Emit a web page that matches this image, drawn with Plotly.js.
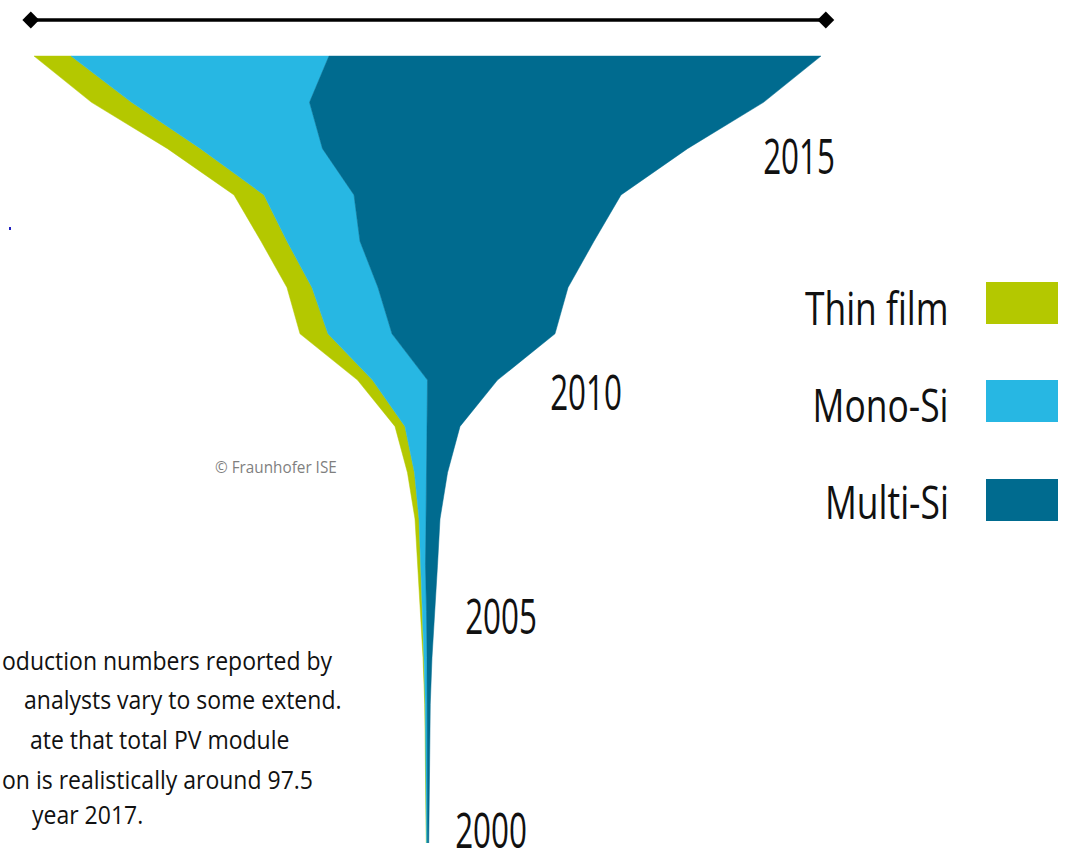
<!DOCTYPE html>
<html>
<head>
<meta charset="utf-8">
<script src="https://cdn.plot.ly/plotly-3.0.1.min.js"></script>
<style>html,body{margin:0;padding:0;background:#fff;}#chart{width:1067px;height:861px;}</style>
</head>
<body>
<div id="chart"></div>
<script>
// Annual PV module production by technology (GW)
const years = [2000,2001,2002,2003,2004,2005,2006,2007,2008,2009,2010,2011,2012,2013,2014,2015,2016,2017];
const thinFilm = [0.04,0.05,0.06,0.07,0.12,0.25,0.37,0.50,0.87,1.24,1.86,3.47,3.10,3.22,3.72,4.09,4.96,4.58];
const monoSi   = [0.12,0.15,0.19,0.25,0.37,0.50,0.62,0.87,1.49,2.73,6.81,7.93,8.18,9.04,11.15,15.11,22.05,31.96];
const multiSi  = [0.15,0.20,0.25,0.37,0.62,0.99,1.49,1.73,2.60,4.09,8.67,20.19,23.54,28.99,33.08,45.22,56.24,60.95];
const seriesNames = ["Thin film","Mono-Si","Multi-Si"];
const yearLabels = ["2015","2010","2005","2000"];
const noteLines = ["oduction numbers reported by","analysts vary to some extend.","ate that total PV module","on is realistically around 97.5","year 2017."];
const credit = "© Fraunhofer ISE";

const colors = ["#B4C800","#27B7E3","#006B8F"];
const W = 1067, H = 861;

// centred stack boundaries
const totals = years.map((_,i)=>thinFilm[i]+monoSi[i]+multiSi[i]);
const b0 = totals.map(t=>-t/2);
const b1 = b0.map((v,i)=>v+thinFilm[i]);
const b2 = b1.map((v,i)=>v+monoSi[i]);
const b3 = b2.map((v,i)=>v+multiSi[i]);

function band(lo, hi, name, color){
  return {
    type:'scatter', mode:'lines', name:name,
    x: lo.concat(hi.slice().reverse()),
    y: years.concat(years.slice().reverse()),
    fill:'toself', fillcolor:color,
    line:{color:color, width:0.5}, hoverinfo:'name', showlegend:false
  };
}
const traces = [
  band(b0,b1,seriesNames[0],colors[0]),
  band(b1,b2,seriesNames[1],colors[1]),
  band(b2,b3,seriesNames[2],colors[2])
];
const last = totals.length-1;
// dimension bar showing total of the last year
traces.push({
  type:'scatter', mode:'lines+markers',
  x:[b0[last]-0.4, b3[last]+0.6], y:[2017.78,2017.78],
  line:{color:'#000',width:3.5},
  marker:{symbol:'diamond',size:13,color:'#000'},
  hoverinfo:'skip', showlegend:false
});

const px = x=>x/W, py = y=>1-y/H;
const FN = '"Open Sans", sans-serif';
const annotations = [];
const squash = [];
const yearPos = [[799,155],[586,391],[501,615],[491,829]];
yearLabels.forEach((t,i)=>{annotations.push({
  text:t, xref:'paper', yref:'paper', x:px(yearPos[i][0]), y:py(yearPos[i][1]),
  xanchor:'center', yanchor:'middle', showarrow:false, height:42,
  font:{family:FN,size:49,color:'#111'}
}); squash.push(0.64);});
const legY = [307,404,501];
seriesNames.forEach((n,i)=>{
  annotations.push({text:n, xref:'paper', yref:'paper', x:px(951), y:py(legY[i]),
    xanchor:'right', yanchor:'middle', showarrow:false,
    font:{family:FN,size:46,color:'#111'}});
  squash.push(0.77);
});
annotations.push({text:credit, xref:'paper', yref:'paper', x:px(213), y:py(466),
  xanchor:'left', yanchor:'middle', showarrow:false,
  font:{family:FN,size:17,color:'#7f7f7f'}});
squash.push(0.9);
const noteX = [0,22,28,0,30], noteY = [660,699,739,779,814];
noteLines.forEach((t,i)=>{annotations.push({text:t, xref:'paper', yref:'paper',
  x:px(noteX[i]), y:py(noteY[i]), xanchor:'left', yanchor:'middle', showarrow:false,
  font:{family:FN,size:25,color:'#111'}}); squash.push(0.92);});

const shapes = [];
const swY = [[282,324],[380,422],[479,521]];
swY.forEach((s,i)=>shapes.push({type:'rect', xref:'paper', yref:'paper',
  x0:px(986), x1:px(1058), y0:py(s[1]), y1:py(s[0]),
  fillcolor:colors[i], line:{width:0}}));
shapes.push({type:'rect', xref:'paper', yref:'paper', x0:px(9), x1:px(11), y0:py(230), y1:py(227),
  fillcolor:'#2020c0', line:{width:0}});

const kx = 787/97.5; // px per GW
const layout = {
  width:W, height:H, margin:{l:0,r:0,t:0,b:0},
  paper_bgcolor:'#fff', plot_bgcolor:'#fff', showlegend:false,
  xaxis:{range:[-427.5/kx,(W-427.5)/kx], visible:false, fixedrange:true},
  yaxis:{range:[2000-18/46.29, 2000+843/46.29], visible:false, fixedrange:true},
  annotations:annotations, shapes:shapes
};
Plotly.newPlot('chart', traces, layout, {displayModeBar:false, staticPlot:true}).then(gd=>{
  // condense annotation text horizontally (the reference uses a narrow face)
  const groups = gd.querySelectorAll('g.annotation');
  groups.forEach((g,i)=>{
    const t = g.querySelector('text.annotation-text');
    if(!t || squash[i]===undefined) return;
    const bb = t.getBBox();
    const xa = annotations[i].xanchor;
    const ax = xa==='left' ? bb.x : (xa==='right' ? bb.x+bb.width : bb.x+bb.width/2);
    const s = squash[i];
    const prev = t.getAttribute('transform') || '';
    t.setAttribute('transform', `translate(${ax*(1-s)},0) scale(${s},1) ${prev}`);
  });
});
</script>
</body>
</html>
